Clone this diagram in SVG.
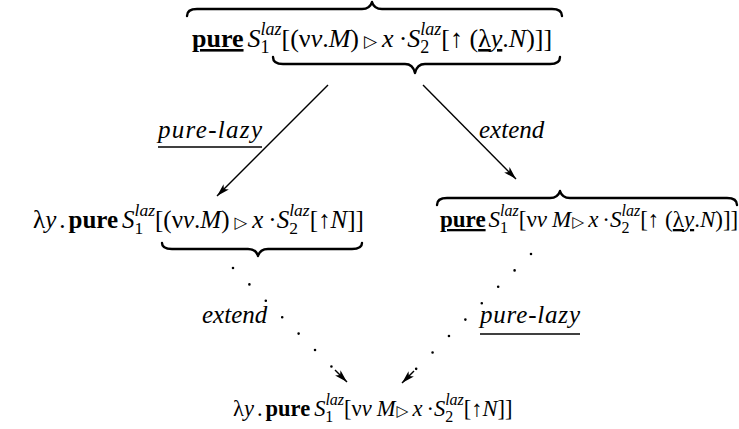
<svg xmlns="http://www.w3.org/2000/svg" width="739" height="429" viewBox="0 0 739 429">
<style>
.m{font-family:"Liberation Serif","Times New Roman",serif;fill:#000}
.i{font-style:italic}
.b{font-weight:bold}
.u{text-decoration:underline}
.tri{font-family:"DejaVu Sans",sans-serif}
.lbl{font-family:"Liberation Serif","Times New Roman",serif;font-size:25px;font-style:italic;fill:#000}
.brace{fill:none;stroke:#000;stroke-width:2.4;stroke-linejoin:round;stroke-linecap:round}
.ul{stroke:#000;stroke-width:1.4}
.arr{fill:none;stroke:#000;stroke-width:1.4}
.dot{fill:none;stroke:#000;stroke-width:2.6;stroke-linecap:round;stroke-dasharray:0 23.2}
</style>
<defs>
<marker id="ah" viewBox="0 0 12 8" refX="12" refY="4" markerWidth="13" markerHeight="9" markerUnits="userSpaceOnUse" orient="auto">
<path d="M0,0.5 L12,4 L0,7.5 L3,4 Z" fill="#000"/>
</marker>
</defs>

<g id="top">
<path class="brace" d="M187,16 Q187,9 197,9 L362,9 Q370,9 372,2 Q374,9 382,9 L552,9 Q562,9 562,16"/>
<text class="m" x="192" y="47" font-size="26"><tspan class="b u">pure</tspan><tspan class="i" dx="4">S</tspan><tspan class="i" font-size="18" dy="-12">laz</tspan><tspan font-size="18" dx="-21" dy="18">1</tspan><tspan dx="12" dy="-6">[(ν</tspan><tspan class="i">ν</tspan><tspan>.</tspan><tspan class="i">M</tspan><tspan>)</tspan><tspan class="tri" font-size="17" dx="5">▷</tspan><tspan class="i" dx="5">x</tspan><tspan dx="5">·</tspan><tspan class="i">S</tspan><tspan class="i" font-size="18" dy="-12">laz</tspan><tspan font-size="18" dx="-21" dy="18">2</tspan><tspan dx="12" dy="-6">[↑ (</tspan><tspan class="u">λ<tspan class="i">y</tspan></tspan><tspan>.</tspan><tspan class="i">N</tspan><tspan>)]]</tspan></text>
<path class="brace" d="M273,57 Q273,64 283,64 L405,64 Q413,64 415,73 Q417,64 425,64 L550,64 Q560,64 560,57"/>
</g>

<g id="left">
<text class="m" x="33" y="228" font-size="25"><tspan>λ</tspan><tspan class="i">y</tspan><tspan dx="3">.</tspan><tspan class="b" dx="3">pure</tspan><tspan class="i" dx="4">S</tspan><tspan class="i" font-size="17.5" dy="-12">laz</tspan><tspan font-size="17.5" dx="-20.4" dy="18">1</tspan><tspan dx="11.7" dy="-6">[(ν</tspan><tspan class="i">ν</tspan><tspan>.</tspan><tspan class="i">M</tspan><tspan>)</tspan><tspan class="tri" font-size="16.5" dx="5">▷</tspan><tspan class="i" dx="5">x</tspan><tspan dx="5">·</tspan><tspan class="i">S</tspan><tspan class="i" font-size="17.5" dy="-12">laz</tspan><tspan font-size="17.5" dx="-20.4" dy="18">2</tspan><tspan dx="11.7" dy="-6">[↑</tspan><tspan class="i">N</tspan><tspan>]]</tspan></text>
<path class="brace" d="M162,243 Q162,249 172,249 L248,249 Q256,249 258,256 Q260,249 268,249 L352,249 Q362,249 362,243"/>
</g>

<g id="right">
<path class="brace" d="M437,205 Q437,198 447,198 L550,198 Q558,198 560,191 Q562,198 570,198 L727,198 Q737,198 737,205"/>
<text class="m" x="440" y="227" font-size="23"><tspan class="b u">pure</tspan><tspan class="i" dx="3">S</tspan><tspan class="i" font-size="16" dy="-11">laz</tspan><tspan font-size="16" dx="-18.7" dy="17">1</tspan><tspan dx="10.7" dy="-6">[ν</tspan><tspan class="i">ν</tspan><tspan class="i" dx="5">M</tspan><tspan class="tri" font-size="15.5" dx="1">▷</tspan><tspan class="i" dx="4">x</tspan><tspan dx="4">·</tspan><tspan class="i">S</tspan><tspan class="i" font-size="16" dy="-11">laz</tspan><tspan font-size="16" dx="-18.7" dy="17">2</tspan><tspan dx="10.7" dy="-6">[↑ (</tspan><tspan class="u">λ<tspan class="i">y</tspan></tspan><tspan>.</tspan><tspan class="i">N</tspan><tspan>)]]</tspan></text>
</g>

<g id="bottom">
<text class="m" x="233" y="416" font-size="22.5"><tspan>λ</tspan><tspan class="i">y</tspan><tspan dx="3">.</tspan><tspan class="b" dx="3">pure</tspan><tspan class="i" dx="4">S</tspan><tspan class="i" font-size="16" dy="-11">laz</tspan><tspan font-size="16" dx="-18.7" dy="17">1</tspan><tspan dx="10.7" dy="-6">[ν</tspan><tspan class="i">ν</tspan><tspan class="i" dx="5">M</tspan><tspan class="tri" font-size="15.5" dx="1">▷</tspan><tspan class="i" dx="4">x</tspan><tspan dx="4">·</tspan><tspan class="i">S</tspan><tspan class="i" font-size="16" dy="-11">laz</tspan><tspan font-size="16" dx="-18.7" dy="17">2</tspan><tspan dx="10.7" dy="-6">[↑</tspan><tspan class="i">N</tspan><tspan>]]</tspan></text>
</g>

<g id="connectors">
<line class="arr" x1="328" y1="85" x2="217" y2="196" marker-end="url(#ah)"/>
<line class="arr" x1="423" y1="85" x2="516" y2="179" marker-end="url(#ah)"/>
<text class="lbl" x="158" y="138" textLength="104">pure-lazy</text>
<line class="ul" x1="158" y1="147" x2="262" y2="147"/>
<text class="lbl" x="479" y="138">extend</text>
<path class="dot" d="M233,268 L347,382"/>
<line class="arr" x1="335" y1="370" x2="347" y2="382" marker-end="url(#ah)"/>
<path class="dot" d="M531,254 L402,383"/>
<line class="arr" x1="414" y1="371" x2="402" y2="383" marker-end="url(#ah)"/>
<text class="lbl" x="202" y="323">extend</text>
<text class="lbl" x="480" y="323" textLength="100">pure-lazy</text>
<line class="ul" x1="480" y1="334" x2="580" y2="334"/>
</g>
</svg>
